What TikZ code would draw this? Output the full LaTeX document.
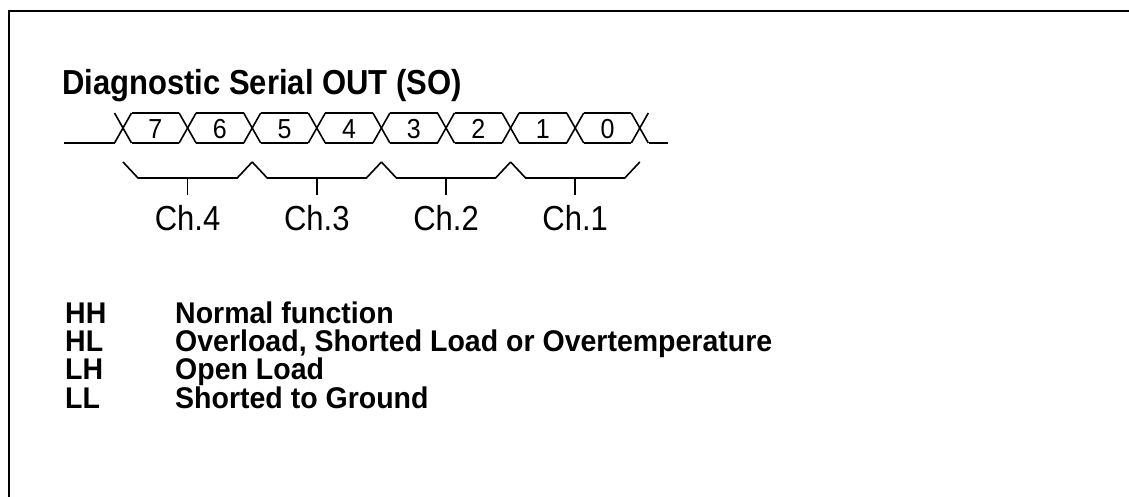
\documentclass[tikz,border=0pt]{standalone}
\usepackage{fontspec}
\setmainfont{Liberation Sans}
\newcommand{\tall}[2][1.17]{\scalebox{1}[#1]{#2}}
\begin{document}
\begin{tikzpicture}[x=1pt, y=-1pt, line join=miter]
  \useasboundingbox (0,0) rectangle (1129,497);
  % frame
  \draw[line width=2.5pt] (9,497) -- (9,11) -- (1129,11);
  % title
  \node[anchor=base west, inner sep=0pt, font={\fontsize{31}{36}\selectfont\bfseries}] (title) at (62,95) {\tall[1.12]{Diagnostic Serial OUT (SO)}};
  % bus waveform
  \def\p{64.6}
  \begin{scope}[line width=1.6pt]
    \draw (64,143) -- (114.5,143);
    \foreach \k in {0,...,8} {
      \pgfmathsetmacro{\c}{123 + \k*\p}
      \draw (\c-8.5,143) -- (\c+8.5,113);
      \draw (\c-8.5,113) -- (\c+8.5,143);
    }
    \foreach \k in {0,...,7} {
      \pgfmathsetmacro{\c}{123 + \k*\p}
      \draw (\c+8.5,113) -- (\c+\p-8.5,113);
      \draw (\c+8.5,143) -- (\c+\p-8.5,143);
    }
    \draw (648.5,143) -- (668,143);
  \end{scope}
  % bit labels
  \foreach \a [count=\n from 0] in {7,6,5,4,3,2,1,0} {
    \pgfmathsetmacro{\xa}{123 + (\n+0.5)*\p}
    \node[anchor=base, inner sep=0pt, font={\fontsize{25}{30}\selectfont}] (bit\a) at (\xa,138.5) {\tall[1.1]{\a}};
  }
  % channel brackets
  \foreach \a [count=\n from 0] in {4,3,2,1} {
    \pgfmathsetmacro{\xa}{123 + 2*\n*\p}
    \pgfmathsetmacro{\xb}{123 + (2*\n+1)*\p}
    \pgfmathsetmacro{\xc}{123 + (2*\n+2)*\p}
    \draw[line width=1.6pt] (\xa,162) -- (\xa+15,178) -- (\xc-15,178) -- (\xc,162);
    \draw[line width=1.6pt] (\xb,178) -- (\xb,195);
    \node[anchor=base, inner sep=0pt, font={\fontsize{31}{36}\selectfont}] (ch\a) at (\xb,230) {\tall[1.12]{Ch.\a}};
  }
  % legend
  \foreach \a/\b [count=\n from 0] in {HH/Normal function, HL/{Overload, Shorted Load or Overtemperature}, LH/Open Load, LL/Shorted to Ground} {
    \pgfmathsetmacro{\ya}{323 + \n*28.4}
    \node[anchor=base west, inner sep=0pt, font={\fontsize{28.5}{32}\selectfont\bfseries}] (code\a) at (65,\ya) {\tall[1.05]{\a}};
    \node[anchor=base west, inner sep=0pt, font={\fontsize{28.5}{32}\selectfont\bfseries}] (text\a) at (175,\ya) {\tall[1.05]{\b}};
  }
\end{tikzpicture}
\end{document}
